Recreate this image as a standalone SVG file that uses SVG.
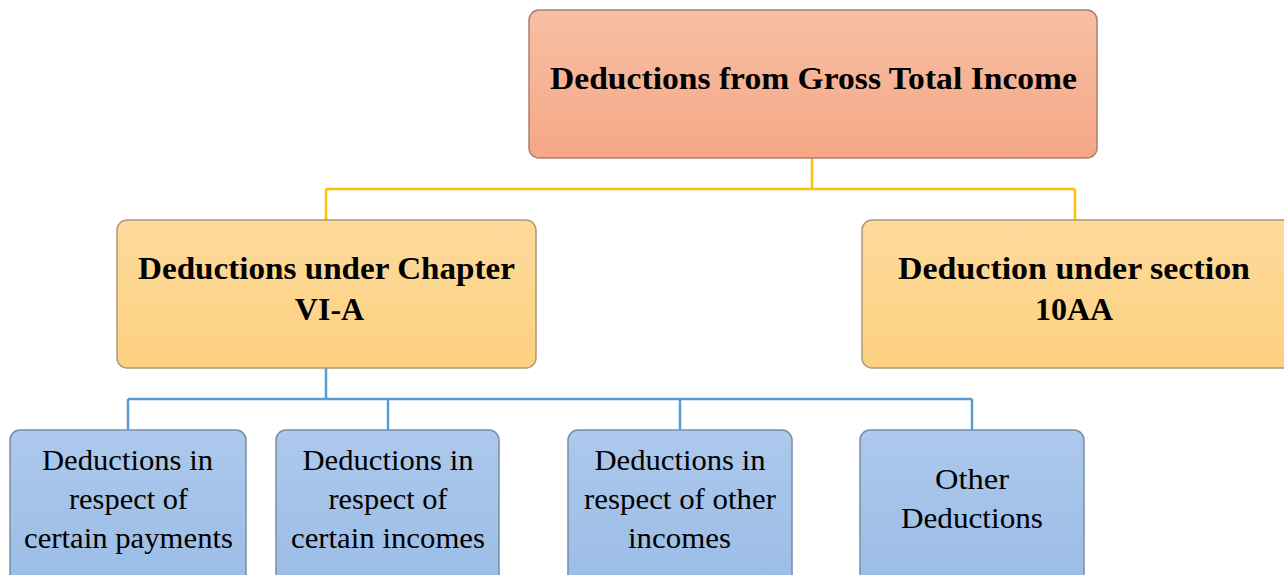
<svg xmlns="http://www.w3.org/2000/svg" width="1284" height="575" viewBox="0 0 1284 575">
<defs>
<linearGradient id="gTop" x1="0" y1="0" x2="0" y2="1"><stop offset="0" stop-color="#f7bfa4"/><stop offset="1" stop-color="#f5a786"/></linearGradient>
<linearGradient id="gMid" x1="0" y1="0" x2="0" y2="1"><stop offset="0" stop-color="#fddb9c"/><stop offset="1" stop-color="#fdd080"/></linearGradient>
<linearGradient id="gBot" x1="0" y1="0" x2="0" y2="1"><stop offset="0" stop-color="#adc9ec"/><stop offset="1" stop-color="#9abce6"/></linearGradient>
<style>
.top{fill:url(#gTop);stroke:#a7826f;stroke-width:1.5}
.mid{fill:url(#gMid);stroke:#a99a7a;stroke-width:1.5}
.bot{fill:url(#gBot);stroke:#7a8ea8;stroke-width:1.5}
.tb{font-family:"Liberation Serif",serif;font-weight:bold;font-size:32px;fill:#000;text-anchor:middle}
.tr{font-family:"Liberation Serif",serif;font-size:29.5px;fill:#000;text-anchor:middle}
.cy{fill:none;stroke:#ffc000;stroke-width:2.5}
.cb{fill:none;stroke:#5b9bd5;stroke-width:2.5}
</style>
</defs>
<rect width="1284" height="575" fill="#fff"/>
<g id="connectors">
<path class="cy" d="M812,158 V189 M326,189 H1075 M326,189 V220 M1075,189 V220"/>
<path class="cb" d="M326,368 V399 M128,399 H972 M128,399 V430 M388,399 V430 M680,399 V430 M972,399 V430"/>
</g>
<g id="root">
<rect class="top" x="529" y="10" width="568" height="148" rx="10"/>
<text class="tb" x="813.5" y="89" textLength="527" lengthAdjust="spacingAndGlyphs">Deductions from Gross Total Income</text>
</g>
<g id="chapter6a">
<rect class="mid" x="117" y="220" width="419" height="148" rx="10"/>
<text class="tb" x="326.5" y="279" textLength="377" lengthAdjust="spacingAndGlyphs">Deductions under Chapter</text>
<text class="tb" x="329.5" y="320">VI-A</text>
</g>
<g id="section10aa">
<rect class="mid" x="862" y="220" width="432" height="148" rx="10"/>
<text class="tb" x="1074" y="279" textLength="352" lengthAdjust="spacingAndGlyphs">Deduction under section</text>
<text class="tb" x="1074" y="320">10AA</text>
</g>
<g id="payments">
<rect class="bot" x="10" y="430" width="236" height="160" rx="10"/>
<text class="tr" x="127.5" y="470" textLength="171" lengthAdjust="spacingAndGlyphs">Deductions in</text>
<text class="tr" x="128.5" y="509" textLength="119" lengthAdjust="spacingAndGlyphs">respect of</text>
<text class="tr" x="128.5" y="548" textLength="209" lengthAdjust="spacingAndGlyphs">certain payments</text>
</g>
<g id="incomes">
<rect class="bot" x="276" y="430" width="223" height="160" rx="10"/>
<text class="tr" x="388" y="470" textLength="171" lengthAdjust="spacingAndGlyphs">Deductions in</text>
<text class="tr" x="388" y="509" textLength="119" lengthAdjust="spacingAndGlyphs">respect of</text>
<text class="tr" x="388" y="548" textLength="194" lengthAdjust="spacingAndGlyphs">certain incomes</text>
</g>
<g id="otherincomes">
<rect class="bot" x="568" y="430" width="224" height="160" rx="10"/>
<text class="tr" x="680" y="470" textLength="171" lengthAdjust="spacingAndGlyphs">Deductions in</text>
<text class="tr" x="680" y="509" textLength="192" lengthAdjust="spacingAndGlyphs">respect of other</text>
<text class="tr" x="679.5" y="548" textLength="103" lengthAdjust="spacingAndGlyphs">incomes</text>
</g>
<g id="other">
<rect class="bot" x="860" y="430" width="224" height="160" rx="10"/>
<text class="tr" x="972" y="489" textLength="74" lengthAdjust="spacingAndGlyphs">Other</text>
<text class="tr" x="972" y="528" textLength="142" lengthAdjust="spacingAndGlyphs">Deductions</text>
</g>
</svg>
